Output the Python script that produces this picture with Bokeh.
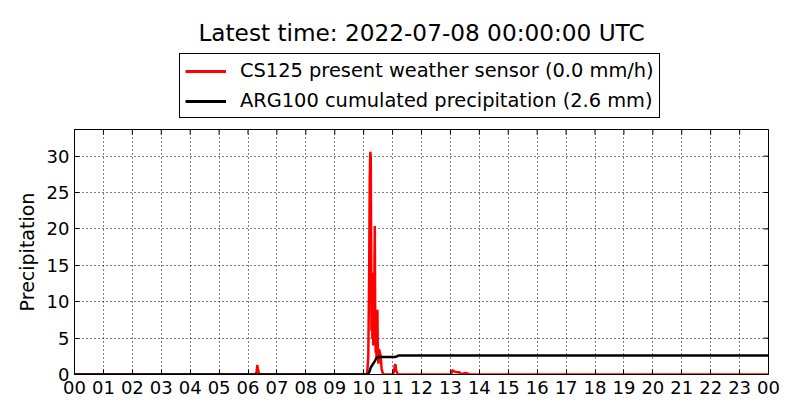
import math
from bokeh.plotting import figure
from bokeh.layouts import column
from bokeh.models import (Range1d, FixedTicker, Legend, LegendItem)
from bokeh.embed import file_html
from bokeh.resources import INLINE

# ---- data ----
title_text = "Latest time: 2022-07-08 00:00:00 UTC"
cs125_label = "CS125 present weather sensor (0.0 mm/h)"
arg_label = "ARG100 cumulated precipitation (2.6 mm)"

cs125_time = [0.00, 6.26, 6.30, 6.32, 6.34, 6.37, 6.40, 6.44,
              10.12, 10.16, 10.19, 10.21, 10.23, 10.245, 10.26, 10.27,
              10.285, 10.30, 10.315, 10.33, 10.345, 10.36, 10.375, 10.385,
              10.40, 10.415, 10.43, 10.445, 10.46, 10.475, 10.49, 10.51,
              10.53, 10.56, 10.59, 10.62, 10.65, 10.68,
              11.00, 11.05, 11.08, 11.10, 11.12, 11.16, 11.20,
              13.03, 13.06, 13.10, 13.15, 13.22, 13.30, 13.36, 13.45,
              13.52, 13.60, 13.66, 24.00]
cs125_rate = [0.0, 0.0, 0.4, 1.3, 0.8, 0.3, 0.1, 0.0,
              0.0, 2.5, 14.0, 27.0, 30.6, 30.0, 17.0, 6.0,
              14.0, 5.0, 11.0, 4.0, 13.0, 6.0, 16.0, 20.4,
              7.0, 3.0, 6.0, 2.0, 5.0, 8.9, 3.0, 1.5,
              3.5, 3.0, 2.5, 0.8, 0.3, 0.0,
              0.0, 0.4, 1.3, 1.4, 0.6, 0.2, 0.0,
              0.0, 0.6, 0.5, 0.4, 0.3, 0.3, 0.1, 0.1,
              0.2, 0.1, 0.0, 0.0]

arg_time = [0.0, 10.15, 10.20, 10.25, 10.30, 10.38, 10.45, 10.52, 11.08, 11.15, 11.20, 24.0]
arg_cum = [0.0, 0.0, 0.4, 1.0, 1.3, 1.8, 2.3, 2.4, 2.4, 2.5, 2.6, 2.6]

hour_ticks = list(range(0, 25))
hour_labels = ["00", "01", "02", "03", "04", "05", "06", "07", "08", "09", "10", "11",
               "12", "13", "14", "15", "16", "17", "18", "19", "20", "21", "22", "23", "00"]
y_ticks = [0, 5, 10, 15, 20, 25, 30]
x_min, x_max = 0, 24
y_min, y_max = 0, 33.66

FONT = "DejaVu Sans"
FS = "18px"
RED = "red"
BLACK = "black"

# ---------- header figure: title + legend ----------
head = figure(width=800, height=121,
              min_border_left=74, min_border_right=32, min_border_top=48, min_border_bottom=0,
              output_backend="svg", toolbar_location=None,
              x_range=Range1d(x_min, x_max), y_range=Range1d(y_min, y_max),
              x_axis_location=None, y_axis_location=None)
head.outline_line_color = None
head.grid.visible = False
head.background_fill_color = "white"
head.border_fill_color = "white"
h_red = head.line(cs125_time, cs125_rate, line_color=RED, line_width=3, visible=False)
h_black = head.line(arg_time, arg_cum, line_color=BLACK, line_width=3, visible=False)

head.title.text = title_text
head.title.text_font = FONT
head.title.text_font_size = "23.2px"
head.title.text_font_style = "normal"
head.title.align = "center"
head.title.text_color = "black"
head.title.standoff = 5

legend = Legend(items=[LegendItem(label=cs125_label, renderers=[h_red]),
                       LegendItem(label=arg_label, renderers=[h_black])],
                location=(105, 3), orientation="vertical")
legend.label_text_font = FONT
legend.label_text_font_size = "19.4px"
legend.label_text_color = "black"
legend.border_line_color = "black"
legend.border_line_width = 1
legend.border_line_alpha = 1.0
legend.background_fill_alpha = 1.0
legend.padding = 5
legend.spacing = 7
legend.label_height = 20
legend.glyph_height = 20
legend.glyph_width = 41
legend.label_standoff = 14
legend.margin = 0
legend.click_policy = "none"
head.add_layout(legend)

# ---------- main figure ----------
p = figure(width=800, height=299,
           min_border_left=74, min_border_right=32, min_border_top=8, min_border_bottom=46,
           output_backend="svg", toolbar_location=None,
           x_range=Range1d(x_min, x_max), y_range=Range1d(y_min, y_max),
           y_axis_label="Precipitation")

p.background_fill_color = "white"
p.border_fill_color = "white"
p.outline_line_color = "black"
p.outline_line_width = 1

red = p.line(cs125_time, cs125_rate, line_color=RED, line_width=2.5)
black = p.line(arg_time, arg_cum, line_color=BLACK, line_width=2.5)

# inward ticks on top and right edges (half of each dash is clipped by the frame)
p.scatter(hour_ticks, [y_max] * len(hour_ticks), marker="dash", angle=math.pi / 2,
          size=10, line_color="black", line_width=1)
p.scatter([x_max] * len(y_ticks), y_ticks, marker="dash", size=10,
          line_color="black", line_width=1)

xa = p.xaxis[0]
xa.ticker = FixedTicker(ticks=hour_ticks)
xa.major_label_overrides = {i: lab for i, lab in zip(hour_ticks, hour_labels)}
ya = p.yaxis[0]
ya.ticker = FixedTicker(ticks=y_ticks)
for ax in (xa, ya):
    ax.major_tick_in = 5
    ax.major_tick_out = 0
    ax.minor_tick_in = 0
    ax.minor_tick_out = 0
    ax.axis_line_color = "black"
    ax.major_tick_line_color = "black"
    ax.major_label_text_font = FONT
    ax.major_label_text_font_size = FS
    ax.major_label_text_color = "black"
    ax.axis_label_text_font = FONT
    ax.axis_label_text_font_size = "19px"
    ax.axis_label_text_font_style = "normal"
    ax.axis_label_text_color = "black"
xa.major_label_standoff = 6
ya.major_label_standoff = 5
ya.axis_label_standoff = 6

for g in (p.xgrid[0], p.ygrid[0]):
    g.grid_line_color = "black"
    g.grid_line_dash = "1 3"
    g.grid_line_width = 1
    g.grid_line_alpha = 1.0
p.xgrid[0].ticker = FixedTicker(ticks=hour_ticks)
p.ygrid[0].ticker = FixedTicker(ticks=y_ticks)

layout = column(head, p, spacing=0)
open("out.html", "w").write(file_html(layout, INLINE))
